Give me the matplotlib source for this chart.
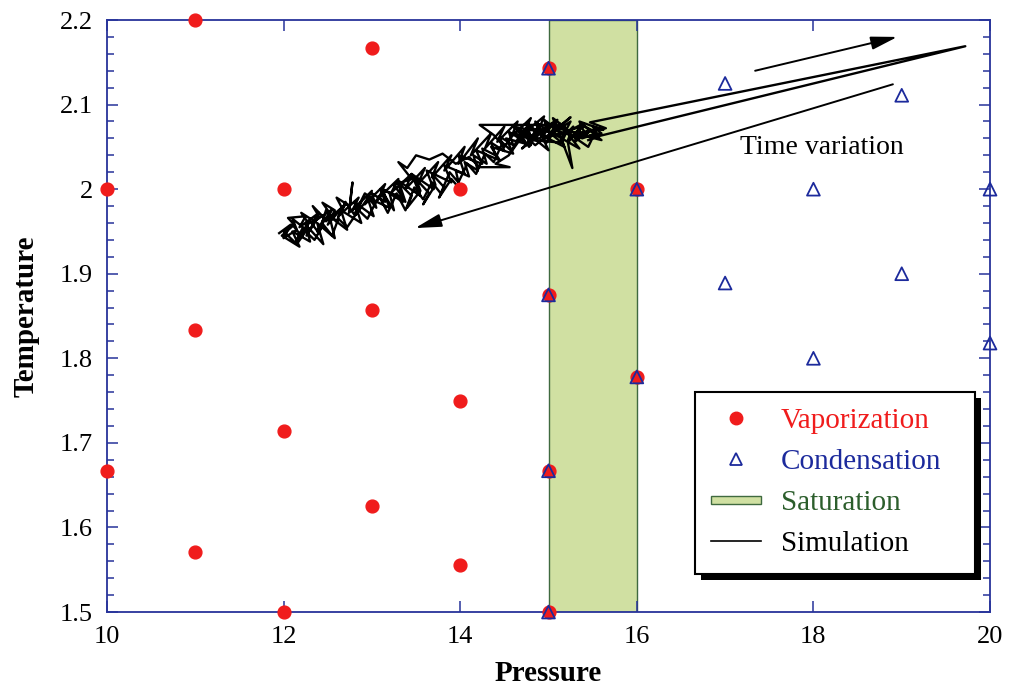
import numpy as np
import matplotlib
matplotlib.use('Agg')
import matplotlib.pyplot as plt
import matplotlib.patches as mpatches
from matplotlib.lines import Line2D
from matplotlib.legend_handler import HandlerPatch
from matplotlib.ticker import MultipleLocator
from matplotlib.transforms import IdentityTransform

plt.rcParams['font.family'] = ['Liberation Serif', 'DejaVu Serif']

# Vaporization states (pressure, temperature)
vap_p = [10, 10, 11, 11, 11, 12, 12, 12, 13, 13, 13, 14, 14, 14,
         15, 15, 15, 15, 16, 16]
vap_t = [2.0, 1.667, 2.2, 1.833, 1.571, 2.0, 1.714, 1.5, 2.167, 1.857, 1.625,
         2.0, 1.75, 1.556, 2.143, 1.875, 1.667, 1.5, 2.0, 1.778]

# Condensation states
con_p = [15, 15, 15, 15, 16, 16, 17, 17, 18, 18, 19, 19, 20, 20]
con_t = [2.143, 1.875, 1.667, 1.5, 2.0, 1.778, 2.125, 1.889, 2.0, 1.8,
         2.111, 1.9, 2.0, 1.818]

# Saturation pressure range
sat_lo, sat_hi = 15, 16

# Simulated trajectory, as (pressure, temperature) pairs
sim_path = [
    # first sweep, lower edge of the cloud
    (11.95, 1.948), (12.08, 1.958), (12.00, 1.942), (12.15, 1.952),
    (12.10, 1.965), (12.22, 1.955), (12.14, 1.938), (12.28, 1.960),
    (12.20, 1.972), (12.35, 1.962), (12.26, 1.945), (12.40, 1.968),
    (12.33, 1.980), (12.46, 1.966), (12.38, 1.950), (12.52, 1.972),
    (12.44, 1.984), (12.58, 1.975), (12.50, 1.958), (12.66, 1.978),
    (12.60, 1.990), (12.75, 1.980), (12.78, 2.008), (12.74, 1.972),
    (12.88, 1.985), (12.82, 1.970), (12.96, 1.990), (13.05, 1.978),
    (13.00, 1.995), (13.15, 1.985), (13.10, 2.000), (13.25, 1.975),
    (13.20, 1.995), (13.35, 1.985), (13.30, 2.008), (13.45, 1.992),
    (13.40, 1.978), (13.55, 1.998), (13.50, 2.012), (13.65, 1.995),
    (13.58, 1.982), (13.72, 2.005), (13.68, 2.018), (13.82, 2.002),
    (13.76, 1.990), (13.90, 2.012), (14.00, 2.000), (13.95, 2.022),
    (14.10, 2.015), (14.05, 2.032), (14.20, 2.022), (14.15, 2.040),
    (14.30, 2.030), (14.25, 2.048), (14.40, 2.040), (14.35, 2.055),
    (14.50, 2.045), (14.45, 2.062), (14.60, 2.052), (14.55, 2.068),
    (14.70, 2.058), (14.65, 2.072), (14.80, 2.062), (14.75, 2.078),
    (14.90, 2.066), (14.85, 2.080), (15.00, 2.068), (14.95, 2.082),
    (15.10, 2.070), (15.05, 2.084), (15.20, 2.072), (15.15, 2.060),
    (15.28, 2.074), (15.22, 2.058), (15.35, 2.070), (15.30, 2.056),
    (15.45, 2.068), (15.38, 2.060), (15.55, 2.066),
    # drift back along the upper edge
    (15.40, 2.075), (15.25, 2.062), (15.12, 2.078), (15.00, 2.058),
    (14.88, 2.074), (14.75, 2.052), (14.62, 2.068), (14.50, 2.050),
    (14.38, 2.064), (14.22, 2.076), (15.05, 2.076), (14.90, 2.060),
    (14.70, 2.062), (14.55, 2.040), (14.40, 2.030), (14.56, 2.026),
    (14.22, 2.026), (14.10, 2.038), (13.95, 2.030), (13.80, 2.042),
    (13.65, 2.035), (13.50, 2.040), (13.40, 2.025), (13.30, 2.032),
    (13.45, 2.012), (13.25, 2.005), (13.35, 1.990), (13.15, 1.998),
    (13.05, 1.985), (12.92, 1.995), (12.80, 1.970), (12.70, 1.985),
    (12.60, 1.962), (12.48, 1.975), (12.40, 1.948), (12.30, 1.962),
    (12.20, 1.945), (12.10, 1.958), (12.00, 1.950), (12.15, 1.935),
    (12.25, 1.950),
    # second forward sweep through the middle
    (12.35, 1.940), (12.45, 1.958), (12.55, 1.945), (12.62, 1.965),
    (12.72, 1.955), (12.85, 1.975), (12.95, 1.965), (13.08, 1.992),
    (13.18, 1.972), (13.28, 1.995), (13.38, 1.975), (13.48, 2.002),
    (13.58, 1.988), (13.68, 2.008), (13.78, 1.995), (13.88, 2.020),
    (13.98, 2.008), (14.08, 2.030), (14.18, 2.018), (14.28, 2.042),
    (14.38, 2.032), (14.48, 2.055), (14.58, 2.045), (14.68, 2.065),
    (14.78, 2.050), (14.88, 2.070), (14.98, 2.055), (15.08, 2.074),
    (15.18, 2.062), (15.15, 2.058), (15.27, 2.025), (15.22, 2.055),
    (15.35, 2.072), (15.30, 2.060), (15.48, 2.070), (15.40, 2.062),
    (15.60, 2.066), (15.50, 2.074),
    # second return, lower edge
    (15.62, 2.070), (15.35, 2.080), (15.42, 2.064), (15.10, 2.072),
    (15.18, 2.050), (14.92, 2.064), (15.00, 2.046), (14.72, 2.070),
    (14.80, 2.052), (14.52, 2.060), (14.60, 2.042), (14.35, 2.050),
    (14.45, 2.034), (14.18, 2.046), (14.25, 2.030), (13.98, 2.040),
    (14.05, 2.018), (13.82, 2.028), (13.90, 2.008), (13.62, 2.022),
    (13.70, 2.000), (13.45, 2.018), (13.55, 1.992), (13.30, 2.010),
    (13.38, 1.985), (13.12, 2.000), (13.20, 1.978), (12.95, 1.990),
    (13.02, 1.968), (12.80, 1.985), (12.88, 1.960), (12.65, 1.975),
    (12.72, 1.952), (12.52, 1.968), (12.58, 1.942), (12.38, 1.960),
    (12.45, 1.935), (12.25, 1.958), (12.30, 1.938), (12.10, 1.950),
    (12.18, 1.932), (11.98, 1.945),
    # third forward sweep, upper edge
    (12.12, 1.958), (12.05, 1.966), (12.25, 1.968), (12.18, 1.955),
    (12.40, 1.972), (12.32, 1.960), (12.55, 1.976), (12.48, 1.962),
    (12.70, 1.982), (12.62, 1.968), (12.85, 1.990), (12.78, 1.975),
    (13.00, 1.998), (12.92, 1.982), (13.15, 2.006), (13.08, 1.990),
    (13.30, 2.012), (13.22, 1.996), (13.45, 2.018), (13.38, 2.000),
    (13.60, 2.025), (13.52, 2.006), (13.75, 2.032), (13.68, 2.014),
    (13.90, 2.040), (13.82, 2.022), (14.05, 2.050), (13.98, 2.030),
    (14.20, 2.060), (14.12, 2.040), (14.35, 2.066), (14.28, 2.048),
    (14.50, 2.074), (14.42, 2.056), (14.65, 2.080), (14.58, 2.062),
    (14.80, 2.084), (14.72, 2.066), (14.95, 2.086), (14.88, 2.068),
    (15.10, 2.082), (15.02, 2.064), (15.25, 2.080), (15.18, 2.066),
    (15.40, 2.078), (15.32, 2.064), (15.55, 2.072),
    # wandering near saturation
    (15.45, 2.050), (15.20, 2.068), (15.35, 2.048), (14.95, 2.072),
    (15.15, 2.055), (14.80, 2.058), (15.05, 2.078), (14.70, 2.048),
    (14.90, 2.068), (14.60, 2.074), (14.85, 2.052), (15.25, 2.085),
    (15.00, 2.062), (15.40, 2.075), (15.60, 2.058), (15.30, 2.066),
    (15.65, 2.072),
    # excursion to high pressure and back
    (15.47, 2.079), (19.72, 2.169), (15.58, 2.063), (15.45, 2.058),
]
sim_p = [p for p, t in sim_path]
sim_t = [t for p, t in sim_path]

# Arrows marking the direction of time: (start, end)
arrow_out = ((17.34, 2.140), (18.95, 2.180))
arrow_back = ((18.90, 2.124), (13.49, 1.954))

spine_blue = '#27339a'
red = '#f01c1c'
blue = '#1c2a9c'
band_fill = '#d0e0a2'
band_edge = '#3f6a3f'

fig = plt.figure(figsize=(10.15, 6.9), dpi=100)
ax = fig.add_axes([0.1054, 0.113, 0.870, 0.858])

ax.axvspan(sat_lo, sat_hi, facecolor=band_fill, edgecolor=band_edge,
           lw=1.0, zorder=1)
ax.plot(sim_p, sim_t, color='k', lw=1.7, zorder=2)
ax.scatter(vap_p, vap_t, s=85, color=red, zorder=3, clip_on=False)
ax.scatter(con_p, con_t, s=85, marker='^', facecolor='none', edgecolor=blue,
           lw=1.3, zorder=4, clip_on=False)

head = '-|>,head_length=0.8,head_width=0.2'
for (x0, y0), (x1, y1) in [arrow_out, arrow_back]:
    ax.annotate('', xy=(x1, y1), xytext=(x0, y0),
                arrowprops=dict(arrowstyle=head, color='k', lw=1.4,
                                mutation_scale=20, shrinkA=0, shrinkB=0))
ax.text(18.1, 2.049, 'Time variation', fontsize=20, ha='center', va='center')

ax.set_xlim(10, 20)
ax.set_ylim(1.5, 2.2)
ax.yaxis.set_minor_locator(MultipleLocator(0.02))
ax.set_yticks(np.arange(1.5, 2.21, 0.1))
ax.set_yticklabels(['1.5', '1.6', '1.7', '1.8', '1.9', '2', '2.1', '2.2'])
ax.set_xticks([10, 12, 14, 16, 18, 20])
ax.set_xticklabels(['10', '12', '14', '16', '18', '20'])
ax.tick_params(which='both', direction='in', top=True, right=True,
               color=spine_blue, width=1.1, labelsize=19, pad=10)
ax.tick_params(which='major', length=8)
ax.tick_params(which='minor', length=5)
for sp in ax.spines.values():
    sp.set_color(spine_blue)
    sp.set_linewidth(1.3)

ax.set_xlabel('Pressure', fontsize=21, fontweight='bold', labelpad=9)
ax.set_ylabel('Temperature', fontsize=21, fontweight='bold', labelpad=15)


def thin_rect(legend, orig_handle, xdescent, ydescent, width, height, fontsize):
    return mpatches.Rectangle((-xdescent, -ydescent + height * 0.3),
                              width, height * 0.4)


handles = [
    Line2D([], [], ls='none', marker='o', ms=9, color=red),
    Line2D([], [], ls='none', marker='^', ms=8, mfc='none', mec=blue, mew=1.3),
    mpatches.Patch(facecolor=band_fill, edgecolor=band_edge, lw=1.0),
    Line2D([], [], color='k', lw=1.2),
]
labels = ['Vaporization', 'Condensation', 'Saturation', 'Simulation']
leg = ax.legend(handles, labels, loc='upper left', mode='expand',
                bbox_to_anchor=(0.666, 0.066, 0.317, 0.3056), fontsize=21,
                frameon=True, fancybox=False, edgecolor='k', framealpha=1,
                handlelength=1.7, handletextpad=0.7, labelspacing=0.5,
                borderpad=0.55, borderaxespad=0,
                handler_map={mpatches.Patch: HandlerPatch(patch_func=thin_rect)})
leg.get_frame().set_linewidth(1.5)
for txt, c in zip(leg.get_texts(), [red, blue, '#2c5e2c', 'k']):
    txt.set_color(c)

# solid drop shadow behind the legend box
fig.canvas.draw()
bb = leg.get_window_extent()
shadow = mpatches.Rectangle((bb.x0 + 6, bb.y0 - 6), bb.width, bb.height,
                            transform=IdentityTransform(), facecolor='k',
                            edgecolor='none', zorder=4.9)
ax.add_artist(shadow)
leg.set_zorder(5)

fig.savefig('out.png', dpi=100)
